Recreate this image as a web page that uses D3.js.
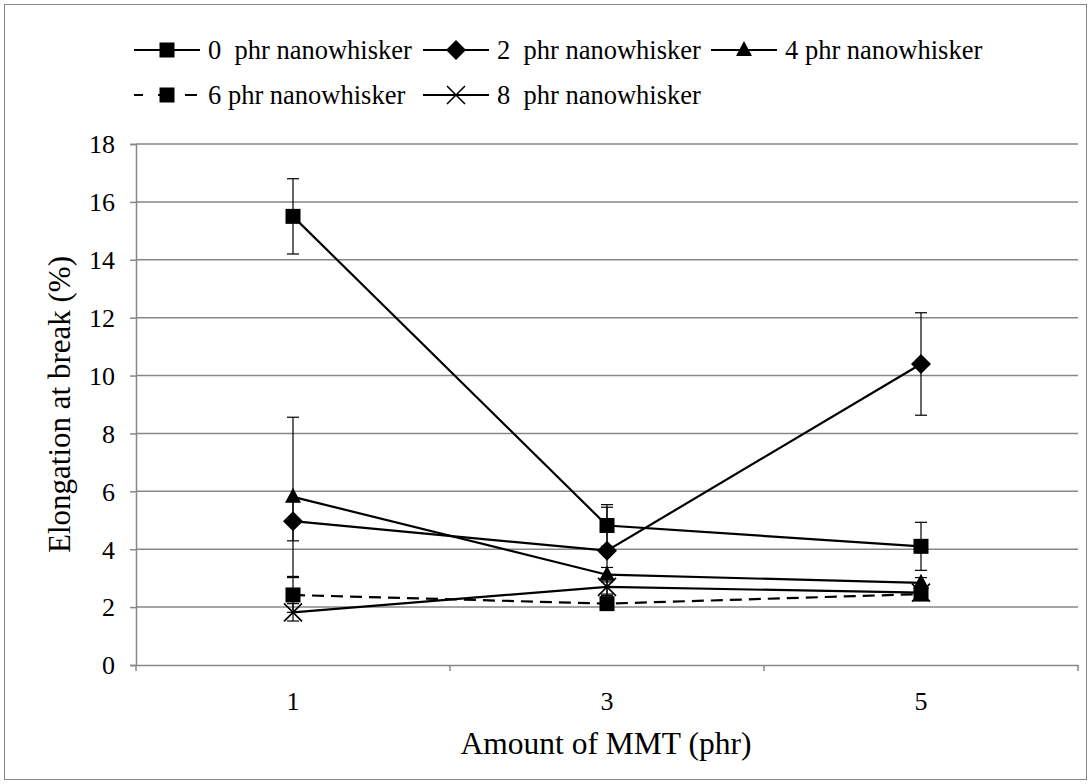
<!DOCTYPE html>
<html><head><meta charset="utf-8">
<script src="https://cdn.jsdelivr.net/npm/d3@7"></script>
</head><body style="margin:0"><svg id="c" width="1092" height="784" font-family="Liberation Serif" style="display:block"></svg>
<script>
const categories = ["1", "3", "5"];
const seriesNames = ["0  phr nanowhisker", "2  phr nanowhisker", "4 phr nanowhisker", "6 phr nanowhisker", "8  phr nanowhisker"];
const values0 = [15.5, 4.82, 4.1];
const errors0 = [1.3, 0.72, 0.83];
const values2 = [4.97, 3.95, 10.4];
const errors2 = [0.68, 1.5, 1.77];
const values4 = [5.81, 3.12, 2.84];
const errors4 = [2.75, 0.25, 0.18];
const values6 = [2.42, 2.12, 2.45];
const errors6 = [0.6, 0.2, 0.2];
const values8 = [1.82, 2.7, 2.5];
const errors8 = [0.3, 0.3, 0.2];
const yTicks = [0, 2, 4, 6, 8, 10, 12, 14, 16, 18];
const markers = ["square", "diamond", "triangle", "square", "x"];
const dashed = [false, false, false, true, false];

const FONT = "Liberation Serif";
const series = [values0, values2, values4, values6, values8].map((v, i) => ({
  name: seriesNames[i], values: v, errors: [errors0, errors2, errors4, errors6, errors8][i],
  marker: markers[i], dashed: dashed[i]
}));

const svg = d3.select("#c");
svg.append("rect").attr("x", 4.5).attr("y", 4.5).attr("width", 1082).attr("height", 775)
  .attr("fill", "#fff").attr("stroke", "#868686").attr("stroke-width", 1);

const L = 136, R = 1078, T = 144, B = 665;
const x = d3.scaleBand().domain(categories).range([L, R]).padding(0);
const y = d3.scaleLinear().domain([0, 18]).range([B, T]);
const cx = c => x(c) + x.bandwidth() / 2;
const grey = "#878787";

// gridlines
svg.append("g").selectAll("line").data(yTicks.filter(t => t > 0)).join("line")
  .attr("x1", L).attr("x2", R).attr("y1", d => y(d)).attr("y2", d => y(d))
  .attr("stroke", grey).attr("stroke-width", 1.5);

// y axis
const yAxis = svg.append("g").attr("transform", `translate(${L},0)`)
  .call(d3.axisLeft(y).tickValues(yTicks).tickSize(6).tickPadding(15).tickFormat(d3.format("d")));
yAxis.attr("font-family", FONT).attr("font-size", 26);
yAxis.select(".domain").attr("stroke", grey).attr("stroke-width", 1.5);
yAxis.selectAll(".tick line").attr("stroke", grey).attr("stroke-width", 1.5);
yAxis.selectAll(".tick text").attr("font-family", FONT).attr("font-size", 26).attr("fill", "#000").attr("dy", "0.34em");

// x axis
const xAxis = svg.append("g").attr("transform", `translate(0,${B})`)
  .call(d3.axisBottom(x).tickSize(0).tickPadding(27));
xAxis.attr("font-family", FONT).attr("font-size", 26);
xAxis.select(".domain").attr("stroke", grey).attr("stroke-width", 1.5);
xAxis.selectAll(".tick text").attr("font-family", FONT).attr("font-size", 26).attr("fill", "#000");
const bounds = categories.map(c => x(c)).concat([x(categories[categories.length - 1]) + x.bandwidth()]);
svg.append("g").selectAll("line").data(bounds).join("line")
  .attr("x1", d => d).attr("x2", d => d).attr("y1", B).attr("y2", B + 6)
  .attr("stroke", grey).attr("stroke-width", 1.5);

// axis titles
svg.append("text").attr("transform", `translate(70,${(T + B) / 2}) rotate(-90)`)
  .attr("text-anchor", "middle").attr("font-family", FONT).attr("font-size", 31).attr("fill", "#000")
  .text("Elongation at break (%)");
svg.append("text").attr("x", 606).attr("y", 754)
  .attr("text-anchor", "middle").attr("font-family", FONT).attr("font-size", 31.5).attr("fill", "#000")
  .text("Amount of MMT (phr)");

function drawMarker(g, type, px, py) {
  if (type === "square") {
    g.append("rect").attr("x", px - 7.5).attr("y", py - 7.5).attr("width", 15).attr("height", 15).attr("fill", "#000");
  } else if (type === "diamond") {
    g.append("path").attr("d", `M${px},${py - 10}L${px + 10},${py}L${px},${py + 10}L${px - 10},${py}Z`).attr("fill", "#000");
  } else if (type === "triangle") {
    g.append("path").attr("d", `M${px},${py - 9}L${px + 8},${py + 6}L${px - 8},${py + 6}Z`).attr("fill", "#000");
  } else if (type === "x") {
    g.append("path").attr("d", `M${px - 9},${py - 9}L${px + 9},${py + 9}M${px + 9},${py - 9}L${px - 9},${py + 9}`)
      .attr("stroke", "#000").attr("stroke-width", 1.6).attr("fill", "none");
  }
}

const line = d3.line().x((d, i) => cx(categories[i])).y(d => y(d));
series.forEach(s => {
  const g = svg.append("g");
  s.values.forEach((v, i) => {
    const px = cx(categories[i]), e = s.errors[i];
    g.append("line").attr("x1", px).attr("x2", px).attr("y1", y(v + e)).attr("y2", y(v - e)).attr("stroke", "#000").attr("stroke-width", 1.2);
    [v + e, v - e].forEach(w => g.append("line").attr("x1", px - 6).attr("x2", px + 6).attr("y1", y(w)).attr("y2", y(w)).attr("stroke", "#000").attr("stroke-width", 1.2));
  });
  g.append("path").attr("d", line(s.values)).attr("fill", "none").attr("stroke", "#000").attr("stroke-width", 2.2)
    .attr("stroke-dasharray", s.dashed ? "12,7" : null);
  s.values.forEach((v, i) => drawMarker(g, s.marker, cx(categories[i]), y(v)));
});

// legend
const legendPos = [[134, 50], [423, 50], [711, 50], [134, 95], [423, 95]];
series.forEach((s, i) => {
  const [lx, ly] = legendPos[i];
  const g = svg.append("g");
  g.append("line").attr("x1", lx).attr("x2", lx + 66).attr("y1", ly).attr("y2", ly)
    .attr("stroke", "#000").attr("stroke-width", 2.2).attr("stroke-dasharray", s.dashed ? "12,15,12,15" : null)
    .attr("stroke-dashoffset", s.dashed ? 3 : null);
  drawMarker(g, s.marker, lx + 33, ly);
  g.append("text").attr("x", lx + 74).attr("y", ly + 9).attr("font-family", FONT).attr("font-size", 26.5)
    .attr("xml:space", "preserve").style("white-space", "pre").attr("fill", "#000").text(s.name);
});
</script></body></html>
